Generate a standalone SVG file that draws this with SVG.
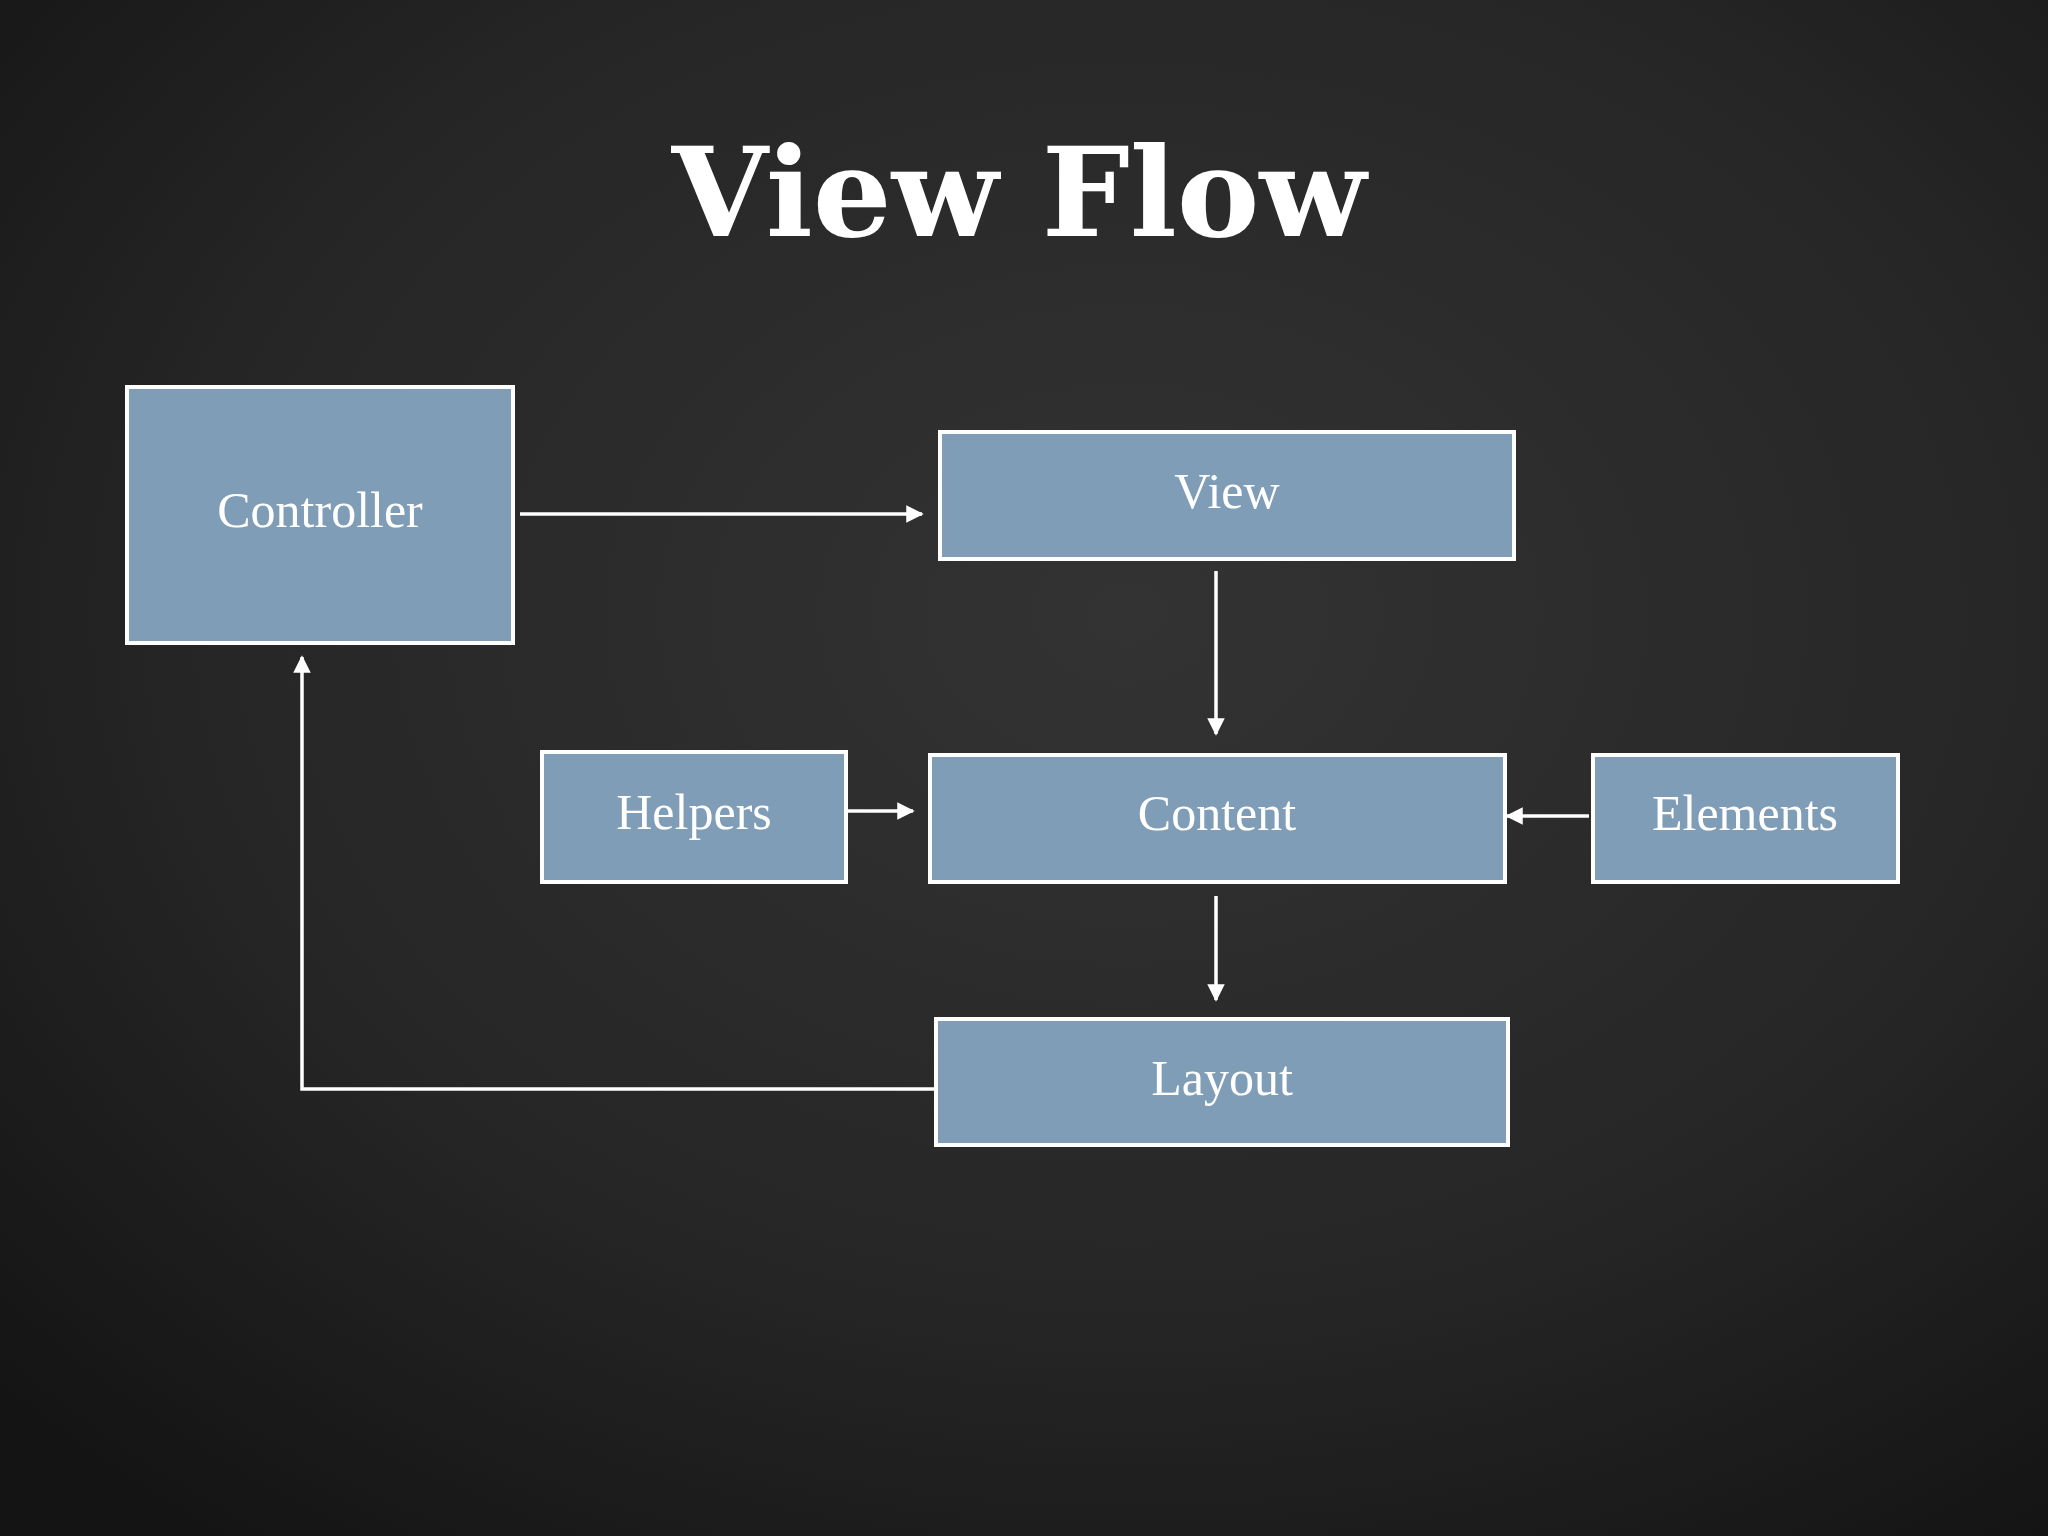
<svg xmlns="http://www.w3.org/2000/svg" width="2048" height="1536" viewBox="0 0 2048 1536">
<defs>
<radialGradient id="bg" cx="0.55" cy="0.4" r="0.75">
<stop offset="0" stop-color="#333"/>
<stop offset="0.6" stop-color="#262626"/>
<stop offset="1" stop-color="#141414"/>
</radialGradient>
<marker id="ah" viewBox="0 0 10 10" refX="9" refY="5" markerWidth="5" markerHeight="5" orient="auto">
<path d="M0,0 L10,5 L0,10 Z" fill="#fff"/>
</marker>
<style>
.box{fill:#7f9db6;stroke:#fff;stroke-width:4}
.lbl{font-family:"Liberation Serif","DejaVu Serif",serif;font-size:50px;fill:#fff;text-anchor:middle}
.con{stroke:#fff;stroke-width:3.5;fill:none;marker-end:url(#ah)}
</style>
</defs>
<rect width="2048" height="1536" fill="url(#bg)"/>
<text x="1019" y="236" font-family="DejaVu Serif,Liberation Serif,serif" font-weight="bold" font-size="124" fill="#fff" text-anchor="middle">View Flow</text>
<g id="controller"><rect class="box" x="127" y="387" width="386" height="256"/><text class="lbl" x="320" y="527">Controller</text></g>
<g id="view"><rect class="box" x="940" y="432" width="574" height="127"/><text class="lbl" x="1227" y="508">View</text></g>
<g id="helpers"><rect class="box" x="542" y="752" width="304" height="130"/><text class="lbl" x="694" y="829">Helpers</text></g>
<g id="content"><rect class="box" x="930" y="755" width="575" height="127"/><text class="lbl" x="1217" y="830">Content</text></g>
<g id="elements"><rect class="box" x="1593" y="755" width="305" height="127"/><text class="lbl" x="1745" y="830">Elements</text></g>
<g id="layout"><rect class="box" x="936" y="1019" width="572" height="126"/><text class="lbl" x="1222" y="1095">Layout</text></g>
<g id="connectors">
<path class="con" d="M520,514 L922,514"/>
<path class="con" d="M1216,571 L1216,734"/>
<path class="con" d="M848,811 L913,811"/>
<path class="con" d="M1589,816 L1507,816"/>
<path class="con" d="M1216,896 L1216,1000"/>
<path class="con" d="M936,1089 L302,1089 L302,657"/>
</g>
</svg>
